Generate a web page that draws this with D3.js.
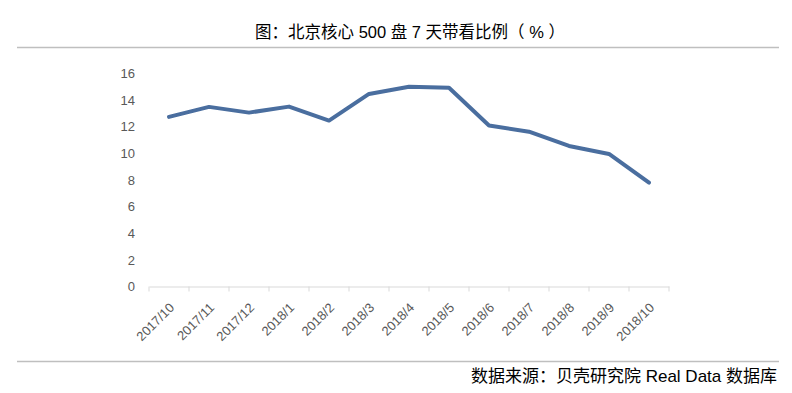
<!DOCTYPE html>
<html><head><meta charset="utf-8">
<script src="https://cdn.jsdelivr.net/npm/d3@7/dist/d3.min.js"></script>
<style>body{margin:0;background:#fff}svg{display:block}</style>
</head><body>
<svg id="c" width="792" height="393"></svg>
<script>
const categories = ["2017/10","2017/11","2017/12","2018/1","2018/2","2018/3","2018/4","2018/5","2018/6","2018/7","2018/8","2018/9","2018/10"];
const values = [12.73,13.48,13.05,13.5,12.45,14.45,14.99,14.92,12.08,11.62,10.55,9.95,7.79];
const yTicks = [0,2,4,6,8,10,12,14,16];
const titleText = "图：北京核心 500 盘 7 天带看比例（ % ）";
const sourceText = "数据来源：贝壳研究院 Real Data 数据库";

const svg = d3.select("#c");
const font = "'Liberation Sans','Noto Sans CJK SC',sans-serif";

svg.append("text").attr("x",410).attr("y",38).attr("text-anchor","middle")
  .attr("font-family",font).attr("font-size",16.5).attr("fill","#000").text(titleText);
svg.append("line").attr("x1",17).attr("x2",779).attr("y1",47.5).attr("y2",47.5)
  .attr("stroke","#bfbfbf").attr("stroke-width",1.5);
svg.append("line").attr("x1",17).attr("x2",779).attr("y1",361.5).attr("y2",361.5)
  .attr("stroke","#bfbfbf").attr("stroke-width",1.5);
svg.append("text").attr("x",777).attr("y",382).attr("text-anchor","end")
  .attr("font-family",font).attr("font-size",17).attr("fill","#000").text(sourceText);

const x = d3.scaleBand().domain(categories).range([149,669]);
const y = d3.scaleLinear().domain([0,16]).range([286.5,73.3]);

const gy = svg.append("g").attr("transform","translate(149,0)")
  .call(d3.axisLeft(y).tickValues(yTicks).tickSize(0).tickPadding(14));
gy.select(".domain").remove();
gy.selectAll("text").attr("font-family",font).attr("font-size",13).attr("fill","#595959");

const gx = svg.append("g").attr("transform","translate(0,286.5)")
  .call(d3.axisBottom(x).tickSizeOuter(0).tickSize(0));
gx.select(".domain").attr("stroke","#d9d9d9");
gx.selectAll(".tick line").remove();
const bounds = d3.range(categories.length+1).map(i=>149+i*x.step());
gx.selectAll(".sep").data(bounds).enter().append("line").attr("class","sep")
  .attr("x1",d=>d).attr("x2",d=>d).attr("y1",0).attr("y2",5).attr("stroke","#d9d9d9");
gx.selectAll(".tick text").attr("font-family",font).attr("font-size",13).attr("fill","#595959")
  .attr("text-anchor","end").attr("dy",null).attr("y",0)
  .attr("transform","translate(6,22) rotate(-45)");

const line = d3.line().x((d,i)=>x(categories[i])+x.bandwidth()/2).y(d=>y(d));
svg.append("path").datum(values).attr("d",line).attr("fill","none")
  .attr("stroke","#4a6e9f").attr("stroke-width",4).attr("stroke-linejoin","round").attr("stroke-linecap","round");
</script>
</body></html>
